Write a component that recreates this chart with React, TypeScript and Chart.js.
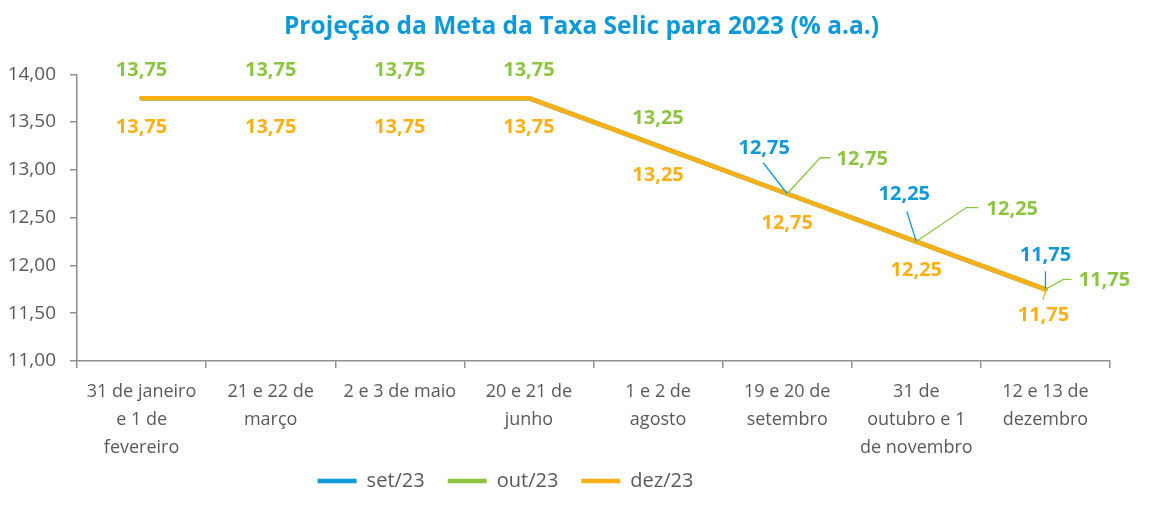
import { useEffect, useRef } from 'react';
import { Chart, registerables } from 'chart.js';

Chart.register(...registerables);

const categories: string[][] = [
  ['31 de janeiro', 'e 1 de', 'fevereiro'],
  ['21 e 22 de', 'março'],
  ['2 e 3 de maio'],
  ['20 e 21 de', 'junho'],
  ['1 e 2 de', 'agosto'],
  ['19 e 20 de', 'setembro'],
  ['31 de', 'outubro e 1', 'de novembro'],
  ['12 e 13 de', 'dezembro'],
];
const seriesNames = ['set/23', 'out/23', 'dez/23'];
const setValues = [13.75, 13.75, 13.75, 13.75, 13.25, 12.75, 12.25, 11.75];
const outValues = [13.75, 13.75, 13.75, 13.75, 13.25, 12.75, 12.25, 11.75];
const dezValues = [13.75, 13.75, 13.75, 13.75, 13.25, 12.75, 12.25, 11.75];
const yMin = 11;
const yMax = 14;
const yStep = 0.5;
const titleText = 'Projeção da Meta da Taxa Selic para 2023 (% a.a.)';

const colors = ['#0E99D8', '#8CC540', '#FDB015'];
const textColor = '#595959';
const axisColor = '#8F8F8F';
const FONT = "'Open Sans', 'Noto Sans', sans-serif";

const fmt = (v: number) => v.toFixed(2).replace('.', ',');

type Place = { dx: number; dy: number; leader?: number[][] } | null;
// label placement relative to each point (pixels)
const labelPlacement: Place[][] = [
  [
    null, null, null, null, null,
    { dx: -23, dy: -45, leader: [[-24, -31], [0, 0]] },
    { dx: -12, dy: -47, leader: [[-9.5, -30], [0, 0]] },
    { dx: 0, dy: -34, leader: [[0, -18], [0, 0]] },
  ],
  [
    { dx: 0, dy: -28 }, { dx: 0, dy: -28 }, { dx: 0, dy: -28 }, { dx: 0, dy: -28 },
    { dx: 0, dy: -28 },
    { dx: 75, dy: -34, leader: [[0, 0], [33, -36], [43, -36]] },
    { dx: 96, dy: -32, leader: [[0, 0], [50, -34], [62, -34]] },
    { dx: 59, dy: -9, leader: [[0, 0], [18, -10], [26, -10]] },
  ],
  [
    { dx: 0, dy: 29 }, { dx: 0, dy: 29 }, { dx: 0, dy: 29 }, { dx: 0, dy: 29 },
    { dx: 0, dy: 29 }, { dx: 0, dy: 30 }, { dx: 0, dy: 29 },
    { dx: -2, dy: 26, leader: [[-2.5, 10.5], [0, 2]] },
  ],
];

const labelsPlugin = {
  id: 'pointLabels',
  afterDatasetsDraw(chart: any) {
    const ctx = chart.ctx;
    ctx.save();
    chart.data.datasets.forEach((ds: any, i: number) => {
      const meta = chart.getDatasetMeta(i);
      meta.data.forEach((el: any, j: number) => {
        const p = labelPlacement[i][j];
        if (!p) return;
        if (p.leader) {
          ctx.beginPath();
          ctx.strokeStyle = colors[i];
          ctx.lineWidth = 1.3;
          p.leader.forEach((pt, k) => {
            if (k === 0) ctx.moveTo(el.x + pt[0], el.y + pt[1]);
            else ctx.lineTo(el.x + pt[0], el.y + pt[1]);
          });
          ctx.stroke();
        }
        ctx.font = `bold 20px ${FONT}`;
        ctx.fillStyle = colors[i];
        ctx.textAlign = 'center';
        ctx.textBaseline = 'middle';
        ctx.fillText(fmt(ds.data[j]), el.x + p.dx, el.y + p.dy);
      });
    });
    ctx.restore();
  },
};

// place title, legend and x-label area like the original layout
const boxShift = {
  id: 'boxShift',
  afterLayout(chart: any) {
    const l = chart.legend;
    if (l) {
      const h = l.bottom - l.top;
      l.left = 0;
      l.right = 1011;
      l.top = 448;
      l.bottom = 448 + h;
    }
    const t = chart.titleBlock;
    if (t) {
      t.left = 0;
      t.right = 1163;
    }
    const x = chart.scales.x;
    if (x) x.bottom = 462;
  },
};

export default function App() {
  const ref = useRef<HTMLCanvasElement | null>(null);
  useEffect(() => {
    if (!ref.current) return;
    const values = [setValues, outValues, dezValues];
    const chart = new Chart(ref.current, {
      type: 'line',
      data: {
        labels: categories as any,
        datasets: values.map((v, i) => ({
          label: seriesNames[i],
          data: v,
          borderColor: colors[i],
          backgroundColor: colors[i],
          borderWidth: 4.5,
          borderCapStyle: 'round' as const,
          borderJoinStyle: 'round' as const,
          pointRadius: 0,
          pointHoverRadius: 0,
          pointStyle: 'line' as const,
          tension: 0,
          fill: false,
          order: 2 - i,
        })),
      },
      options: {
        animation: false,
        responsive: true,
        maintainAspectRatio: false,
        layout: { padding: { left: 0, right: 49, top: 0, bottom: 4 } },
        plugins: {
          tooltip: { enabled: false },
          title: {
            display: true,
            text: titleText,
            color: '#0E99D8',
            font: { family: FONT, size: 24.5, weight: 'bold', lineHeight: 1.2 },
            padding: { top: 12.3, bottom: 32.6 },
          },
          legend: {
            position: 'bottom',
            labels: {
              usePointStyle: true,
              pointStyleWidth: 39,
              boxHeight: 4,
              padding: 23,
              color: textColor,
              font: { family: FONT, size: 20 },
              sort: (a: any, b: any) => a.datasetIndex - b.datasetIndex,
            },
          },
        },
        scales: {
          x: {
            type: 'category',
            offset: true,
            grid: {
              offset: true,
              drawOnChartArea: false,
              drawTicks: true,
              tickLength: 7,
              color: axisColor,
              lineWidth: 1.5,
            },
            border: { display: true, color: axisColor, width: 1.5 },
            ticks: {
              color: textColor,
              font: { family: FONT, size: 18, lineHeight: 1.55 },
              padding: 10,
              maxRotation: 0,
              autoSkip: false,
            },
            afterFit: (s: any) => {
              s.height = 88;
            },
          },
          y: {
            min: yMin,
            max: yMax,
            grid: {
              drawOnChartArea: false,
              drawTicks: true,
              tickLength: 7,
              color: axisColor,
              lineWidth: 1.5,
            },
            border: { display: true, color: axisColor, width: 1.5 },
            ticks: {
              stepSize: yStep,
              color: textColor,
              font: { family: FONT, size: 19 },
              padding: 14,
              callback: (v: any) => fmt(Number(v)),
            },
            afterFit: (s: any) => {
              s.width = 77;
            },
          },
        },
      },
      plugins: [labelsPlugin, boxShift],
    });
    return () => chart.destroy();
  }, []);
  return (
    <div style={{ position: 'fixed', left: 0, top: 0, width: 1159, height: 506, background: '#fff' }}>
      <canvas ref={ref} />
    </div>
  );
}
